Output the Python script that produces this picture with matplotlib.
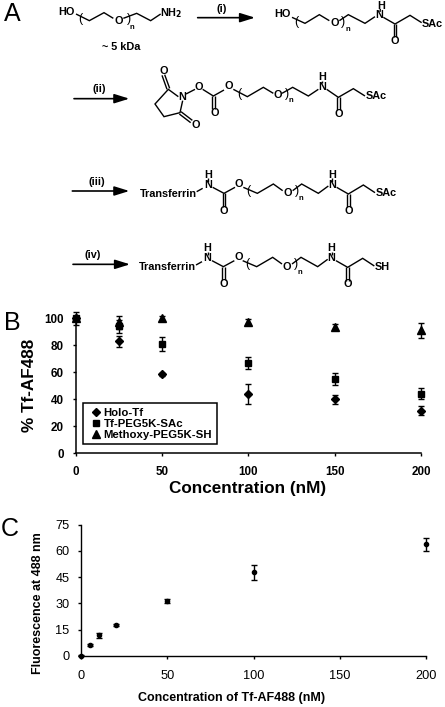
import matplotlib
matplotlib.use("Agg")
import matplotlib.pyplot as plt

plt.rcParams['font.family'] = ['Liberation Sans', 'DejaVu Sans']

W, H = 445, 707

# ---- Panel B data
conc_b = [0, 25, 50, 100, 150, 200]
holo = [100, 83, 58.5, 44, 40, 31.5]
holo_err = [5, 4, 1, 7.5, 3.5, 3.5]
peg_sac = [100, 94, 81, 67, 55, 44]
peg_sac_err = [1, 5, 5, 4.5, 4.5, 4]
methoxy = [100, 97, 100, 97.5, 93.5, 91]
methoxy_err = [1, 5, 2, 2, 2.5, 5.5]
labels_b = ['Holo-Tf', 'Tf-PEG5K-SAc', 'Methoxy-PEG5K-SH']

# ---- Panel C data
conc_c = [0, 5, 10, 20, 50, 100, 200]
fluor = [0, 6, 11.7, 17.7, 31.2, 47.7, 63.7]
fluor_err = [0.3, 0.5, 1.5, 0.7, 1, 4.5, 3.8]

fig = plt.figure(figsize=(W / 100, H / 100), dpi=100)


def axes_px(x0, x1, ytop, ybot):
    return fig.add_axes([x0 / W, 1 - ybot / H, (x1 - x0) / W, (ybot - ytop) / H])


# ---- Overlay for the reaction scheme, in zoom units (3 per pixel)
ov = fig.add_axes([0, 0, 1, 1])
ov.set_xlim(0, W * 3)
ov.set_ylim(H * 3, 0)
ov.axis('off')


def line(pts, dy=0, dx=0, lw=1.0):
    ov.plot([p[0] + dx for p in pts], [p[1] + dy for p in pts], color='k', lw=lw,
            solid_joinstyle='miter', solid_capstyle='butt')


def txt(x, y, s, size=7.8, dy=0, dx=0, weight='bold', ha='center'):
    ov.text(x + dx, y + dy, s, fontsize=size, fontweight=weight, ha=ha, va='center', color='k')


def dbl(x, y0, y1, dy=0, dx=0):
    line([(x - 4, y0), (x - 4, y1)], dy, dx)
    line([(x + 4, y0), (x + 4, y1)], dy, dx)


def arrow(x0, x1, y):
    ov.annotate('', xy=(x1, y), xytext=(x0, y),
                arrowprops=dict(arrowstyle='-|>,head_length=0.9,head_width=0.28', color='k', lw=1.2,
                                shrinkA=0, shrinkB=0))


def paren(x, y, s, dy=0, dx=0):
    txt(x, y, s, size=9, dy=dy, dx=dx, weight='normal')


for (s, x, y) in [('A', 36, 42), ('B', 38, 68 + 900), ('C', 30, 88 + 1500)]:
    ov.text(x, y, s, fontsize=18, ha='center', va='center', color='k')

# Row 1, left
txt(200, 35, 'HO')
paren(240, 56, '(')
line([(228, 42), (268, 62), (312, 38), (340, 55)])
txt(355, 62, 'O')
line([(370, 55), (410, 40), (452, 62), (482, 42)])
paren(388, 56, ')')
txt(397, 82, 'n', size=5.5)
txt(513, 40, 'NH$_{\\mathbf{2}}$')
txt(363, 140, '~ 5 kDa')
arrow(593, 765, 53)
txt(665, 28, '(i)')

# Row 1, right
txt(848, 42, 'HO')
paren(888, 66, '(')
line([(876, 52), (915, 70), (958, 44), (988, 62)])
txt(1003, 68, 'O')
line([(1018, 62), (1045, 44), (1095, 70), (1125, 50)])
paren(1030, 66, ')')
txt(1043, 88, 'n', size=5.5)
txt(1137, 45, 'N')
txt(1143, 17, 'H')
line([(1140, 36), (1141, 27)])
line([(1150, 52), (1185, 72), (1230, 46), (1265, 68)])
dbl(1185, 72, 110)
txt(1185, 123, 'O')
txt(1298, 72, 'SAc')

# Row 2
arrow(222, 388, 296)
txt(298, 268, '(ii)')
line([(535, 290), (505, 268), (465, 312), (492, 350), (540, 338), (548, 302)])
line([(501, 268), (486, 226)])
line([(509, 265), (494, 224)])
txt(490, 214, 'O')
line([(538, 342), (572, 368)])
line([(543, 335), (577, 361)])
txt(587, 375, 'O')
txt(548, 290, 'N')
line([(558, 282), (585, 268)])
txt(596, 260, 'O')
line([(608, 268), (640, 288), (672, 270)])
dbl(640, 288, 328)
txt(643, 339, 'O')
txt(686, 258, 'O')
paren(718, 282, '(')
line([(700, 268), (742, 290), (790, 262), (820, 280)])
txt(833, 286, 'O')
line([(846, 280), (878, 262), (925, 288), (955, 268)])
paren(862, 282, ')')
txt(872, 303, 'n', size=5.5)
txt(967, 260, 'N')
txt(967, 232, 'H')
line([(967, 250), (967, 242)])
line([(980, 268), (1015, 292), (1060, 266), (1095, 288)])
dbl(1015, 292, 330)
txt(1015, 341, 'O')
txt(1128, 288, 'SAc')


# Rows 3 and 4 share the Transferrin conjugate drawing
def conjugate(dy, dx, end):
    txt(505, 132, 'Transferrin', dy=dy, dx=dx)
    line([(590, 125), (608, 115)], dy, dx)
    txt(625, 105, 'N', dy=dy, dx=dx)
    txt(625, 75, 'H', dy=dy, dx=dx)
    line([(625, 95), (625, 85)], dy, dx)
    line([(638, 112), (672, 130), (705, 112)], dy, dx)
    dbl(672, 130, 170, dy, dx)
    txt(672, 183, 'O', dy=dy, dx=dx)
    txt(717, 102, 'O', dy=dy, dx=dx)
    paren(745, 122, '(', dy=dy, dx=dx)
    line([(730, 112), (772, 130), (820, 102), (848, 122)], dy, dx)
    txt(862, 130, 'O', dy=dy, dx=dx)
    line([(878, 122), (905, 102), (955, 130), (985, 108)], dy, dx)
    paren(890, 122, ')', dy=dy, dx=dx)
    txt(903, 146, 'n', size=5.5, dy=dy, dx=dx)
    txt(997, 105, 'N', dy=dy, dx=dx)
    txt(997, 75, 'H', dy=dy, dx=dx)
    line([(997, 95), (997, 85)], dy, dx)
    line([(1010, 112), (1045, 132), (1090, 105), (1125, 128)], dy, dx)
    dbl(1045, 132, 172, dy, dx)
    txt(1045, 183, 'O', dy=dy, dx=dx)
    txt(1158 if end == 'SAc' else 1148, 130, end, dy=dy, dx=dx)


arrow(217, 388, 573)
txt(290, 545, '(iii)')
conjugate(450, 0, 'SAc')
arrow(219, 390, 793)
txt(278, 765, '(iv)')
conjugate(670, -2, 'SH')

# ---- Panel B
ax = axes_px(75.5, 421, 318.3, 453.3)
ax.patch.set_alpha(0)
for y, e, m, ms, lab in [(holo, holo_err, 'D', 4.2, labels_b[0]),
                         (peg_sac, peg_sac_err, 's', 5, labels_b[1]),
                         (methoxy, methoxy_err, '^', 5.5, labels_b[2])]:
    ax.errorbar(conc_b, y, yerr=e, fmt=m, ms=ms, color='k', ecolor='k', elinewidth=1,
                capsize=2.5, capthick=1, clip_on=False, label=lab)
ax.set_xlim(0, 200)
ax.set_ylim(0, 100)
ax.set_xticks([0, 50, 100, 150, 200])
ax.set_yticks([0, 20, 40, 60, 80, 100])
ax.spines[['top', 'right']].set_visible(False)
ax.spines[['left', 'bottom']].set_linewidth(1.1)
ax.tick_params(axis='y', length=2.5, width=1, pad=6, labelsize=8.4)
ax.tick_params(axis='x', length=2.5, width=1, pad=7, labelsize=8.4)
for t in ax.get_xticklabels() + ax.get_yticklabels():
    t.set_fontweight('bold')
ax.set_xlabel('Concentration (nM)', fontsize=12.3, fontweight='bold', va='center')
ax.xaxis.set_label_coords((248 - 75.5) / 345.5, (453.3 - 488) / 135)
ax.set_ylabel('% Tf-AF488', fontsize=12.3, fontweight='bold', va='center')
ax.yaxis.set_label_coords((30 - 75.5) / 345.5, 0.5)
handles, labs = ax.get_legend_handles_labels()
handles = [h[0] for h in handles]
leg = ax.legend(handles, labs, loc='lower left', bbox_to_anchor=(7.5 / 345.5, 9 / 135),
                frameon=True, fancybox=False, edgecolor='k', framealpha=1, handletextpad=0.0,
                handlelength=1.4, labelspacing=0.08, borderpad=0.42, borderaxespad=0,
                prop={'weight': 'bold', 'size': 8.2})
leg.get_frame().set_linewidth(1.1)

# ---- Panel C
ax2 = axes_px(81.3, 425.7, 524.7, 655.7)
ax2.patch.set_alpha(0)
ax2.errorbar(conc_c, fluor, yerr=fluor_err, fmt='o', ms=3, color='k', ecolor='k', elinewidth=1,
             capsize=2.2, capthick=1, clip_on=False)
ax2.set_xlim(0, 200)
ax2.set_ylim(0, 75)
ax2.set_xticks([0, 50, 100, 150, 200])
ax2.set_yticks([0, 15, 30, 45, 60, 75])
ax2.spines[['top', 'right']].set_visible(False)
ax2.spines[['left', 'bottom']].set_linewidth(1.0)
ax2.tick_params(axis='y', length=2.5, width=1, pad=6, labelsize=9.2)
ax2.tick_params(axis='x', length=2.5, width=1, pad=8, labelsize=9.2)
ax2.set_xlabel('Concentration of Tf-AF488 (nM)', fontsize=9, fontweight='bold', va='center')
ax2.xaxis.set_label_coords((232 - 81.3) / 344.4, (655.7 - 698) / 131)
ax2.set_ylabel('Fluorescence at 488 nm', fontsize=9, fontweight='bold', va='center')
ax2.yaxis.set_label_coords((38 - 81.3) / 344.4, (655.7 - 603) / 131)

fig.savefig('out.png', dpi=100)
